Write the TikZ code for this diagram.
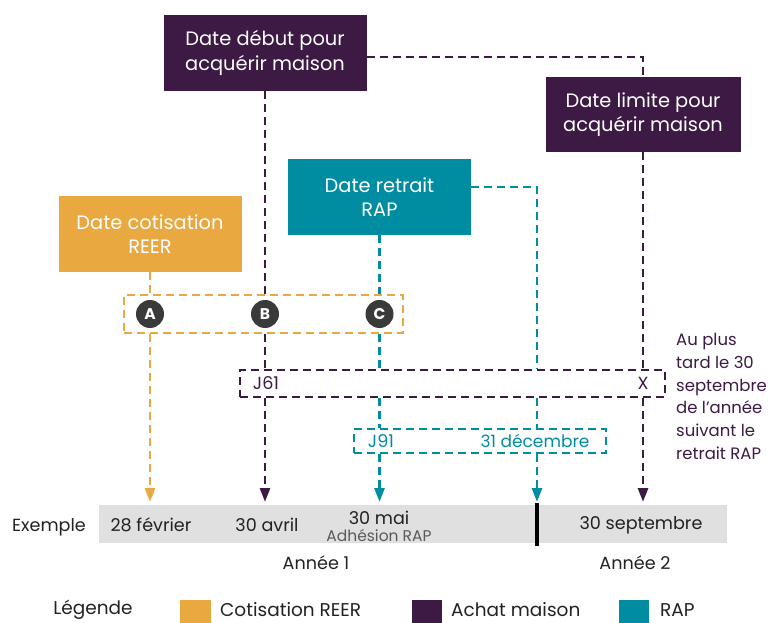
\documentclass[tikz,border=0pt]{standalone}
\usepackage{fontspec}
\setmainfont{Poppins}
\usepackage{tikz}
\usetikzlibrary{arrows.meta}
\definecolor{cReer}{HTML}{E9A840}
\definecolor{cAchat}{HTML}{3C1A44}
\definecolor{cRap}{HTML}{008DA1}
\definecolor{cPastille}{HTML}{3A3A3A}
\definecolor{cBarre}{HTML}{E0E0E0}
\definecolor{cTexte}{HTML}{222222}
\tikzstyle{boite} = [text=white, align=center, inner sep=0pt, font=\fontsize{19.4}{24.5}\selectfont]
\tikzstyle{pointille} = [line width=2.8pt, dash pattern=on 8pt off 5pt]
\tikzstyle{fleche} = [pointille, -{Triangle[width=10pt,length=14pt]}]
\tikzstyle{groupe} = [pointille, inner sep=0pt]
\tikzstyle{rond} = [circle, fill=cPastille, text=white, minimum size=28pt, inner sep=0pt, font=\bfseries\fontsize{15.5}{15.5}\selectfont]
\tikzstyle{petit} = [text=cTexte, inner sep=0pt, font=\fontsize{17.6}{20}\selectfont]
\tikzstyle{legtexte} = [petit, font=\fontsize{18.5}{20}\selectfont]

\begin{document}
\begin{tikzpicture}[x=1pt, y=-1pt]
  \useasboundingbox (0,0) rectangle (769,623);

  % Boxes on top
  \node[boite, fill=cAchat, minimum width=203pt, minimum height=76pt] (debut) at (265,53) {Date début pour\\acquérir maison};
  \node[boite, fill=cAchat, minimum width=195pt, minimum height=75pt] (limite) at (643,114.5) {Date limite pour\\acquérir maison};
  \node[boite, fill=cRap, minimum width=183pt, minimum height=76pt] (retrait) at (379.5,197) {Date retrait\\RAP};
  \node[boite, fill=cReer, minimum width=183pt, minimum height=76pt] (reer) at (150,234) {Date cotisation\\REER};

  % Dashed groups
  \node[groupe, draw=cReer, minimum width=279pt, minimum height=38pt] (grpA) at (263.5,314) {};
  \node[groupe, draw=cAchat, minimum width=425pt, minimum height=27pt] (jbox) at (452.5,383.5) {};
  \node[groupe, draw=cRap, minimum width=252pt, minimum height=24pt] (tbox) at (480,441) {};

  \node[rond] (A) at (150,314) {A};
  \node[rond] (B) at (265,314) {B};
  \node[rond] (C) at (379.5,314) {C};

  \node[petit, text=cAchat] (j61) at (266,383.5) {J61};
  \node[petit, text=cAchat] (xx) at (643,383.5) {X};
  \node[petit, text=cRap] (j91) at (381,441) {J91};
  \node[petit, text=cRap, font=\fontsize{17}{20}\selectfont] (dec) at (535,441) {31 décembre};

  \node[petit, text=cAchat, anchor=north west, align=left, font=\fontsize{16.5}{22.8}\selectfont] (note) at (676,333)
    {Au plus\\tard le 30\\septembre\\de l’année\\suivant le\\retrait RAP};

  % Timeline
  \node[fill=cBarre, minimum width=628pt, minimum height=38pt, inner sep=0pt] (barre) at (413,524) {};
  \draw[line width=4.5pt] (537,503) -- (537,546);
  \coordinate (fA) at (150,502);
  \coordinate (fB) at (265,502);
  \coordinate (fC) at (379.5,502);
  \coordinate (fE) at (537,502);
  \coordinate (fD) at (643,502);

  \node[petit] (exemple) at (49,527) {Exemple};
  \node[petit] (fev) at (151,525) {28 février};
  \node[petit] (avril) at (267,525) {30 avril};
  \node[petit] (mai) at (379,518) {30 mai};
  \node[petit, text=black!65, font=\fontsize{15.5}{17}\selectfont] (adh) at (379,536) {Adhésion RAP};
  \node[petit] (sept) at (641,525) {30 septembre};
  \node[petit] (an1) at (316,563) {Année 1};
  \node[petit] (an2) at (635,563) {Année 2};

  % REER
  \draw[pointille, cReer] (reer) -- (reer.south |- grpA.north);
  \draw[fleche, cReer] (A |- grpA.south) -- (fA);

  % Achat maison
  \draw[pointille, cAchat] (debut) -- (debut.south |- grpA.north);
  \draw[pointille, cAchat] (B |- grpA.south) -- (B |- jbox.north);
  \draw[fleche, cAchat] (B |- jbox.south) -- (fB);
  \draw[pointille, cAchat] ([yshift=-4pt]debut.east) -| (limite.north);
  \draw[pointille, cAchat] (limite) -- (limite |- jbox.north);
  \draw[fleche, cAchat] (limite |- jbox.south) -- (fD);

  % RAP
  \draw[pointille, cRap] (retrait) -- (retrait.south |- grpA.north);
  \draw[pointille, cRap] (C |- grpA.south) -- (C |- jbox.north);
  \draw[pointille, cRap] (C |- jbox.south) -- (C |- tbox.north);
  \draw[fleche, cRap] (C |- tbox.south) -- (fC);
  \draw[pointille, cRap] ([yshift=10pt]retrait.east) -| (fE |- jbox.north);
  \draw[pointille, cRap] (fE |- jbox.south) -- (fE |- tbox.north);
  \draw[fleche, cRap] (fE |- tbox.south) -- (fE);

  % Legend
  \node[legtexte] (legende) at (93,610) {Légende};
  \fill[cReer] (180,600) rectangle (211,630);
  \node[legtexte, anchor=west] (lreer) at (220,610) {Cotisation REER};
  \fill[cAchat] (412,600) rectangle (442,630);
  \node[legtexte, anchor=west] (lachat) at (451,610) {Achat maison};
  \fill[cRap] (619,600) rectangle (649,630);
  \node[legtexte, anchor=west] (lrap) at (660,610) {RAP};
\end{tikzpicture}
\end{document}
